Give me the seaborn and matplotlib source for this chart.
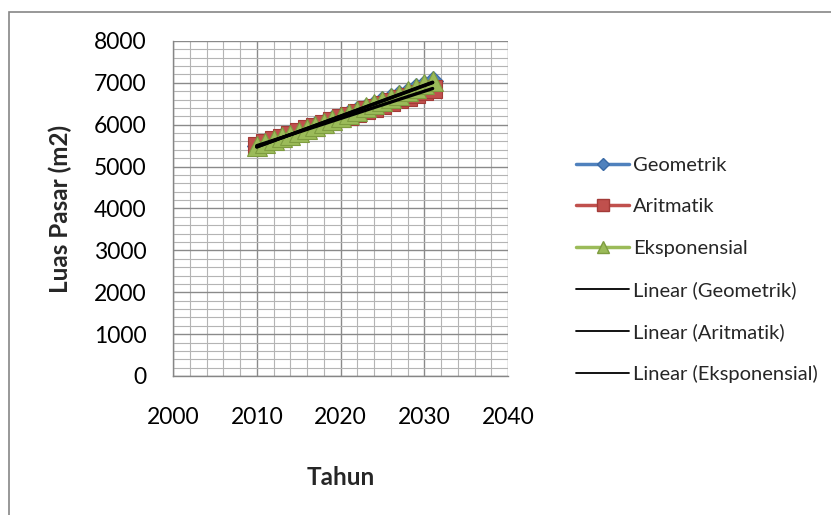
import numpy as np
import pandas as pd
import matplotlib
matplotlib.use("Agg")
import matplotlib.pyplot as plt
from matplotlib.lines import Line2D
from matplotlib.patches import Rectangle
from matplotlib.ticker import MultipleLocator
import seaborn as sns

# Projected market floor area (m2) per year, three projection methods
tahun = [2010, 2011, 2012, 2013, 2014, 2015, 2016, 2017, 2018, 2019, 2020,
         2021, 2022, 2023, 2024, 2025, 2026, 2027, 2028, 2029, 2030, 2031]
geometrik = [5500, 5565, 5631, 5697, 5764, 5832, 5901, 5971, 6041, 6113, 6185,
             6258, 6331, 6406, 6482, 6558, 6636, 6714, 6793, 6873, 6954, 7036]
aritmatik = [5500, 5565, 5630, 5695, 5760, 5825, 5890, 5955, 6020, 6085, 6150,
             6215, 6280, 6345, 6410, 6475, 6540, 6605, 6670, 6735, 6800, 6865]
eksponensial = [5500, 5565, 5631, 5698, 5766, 5834, 5904, 5974, 6045, 6116, 6189,
                6262, 6337, 6412, 6488, 6565, 6643, 6722, 6802, 6882, 6964, 7047]

x_ticks = [2000, 2010, 2020, 2030, 2040]
y_ticks = [0, 1000, 2000, 3000, 4000, 5000, 6000, 7000, 8000]

series_names = ["Geometrik", "Aritmatik", "Eksponensial"]
series_values = [geometrik, aritmatik, eksponensial]

df = pd.DataFrame({
    "Tahun": np.tile(tahun, 3),
    "Luas": np.concatenate(series_values),
    "Metode": np.repeat(series_names, len(tahun)),
})

sns.set_theme(style="white")
plt.rcParams["font.family"] = ["Lato", "DejaVu Sans"]

W, H = 831, 515
fig = plt.figure(figsize=(W / 100, H / 100), dpi=100)
ax = fig.add_axes([173 / W, 1 - 376 / H, (508 - 173) / W, (376 - 41) / H])

styles = {
    "Geometrik": dict(color="#4F81BD", marker="D", mfc="#4F81BD", mec="#3A6AA6", ms=10),
    "Aritmatik": dict(color="#C0504D", marker="s", mfc="#C0504D", mec="#A33B38", ms=13),
    "Eksponensial": dict(color="#9BBB59", marker="^", mfc="#9BBB59", mec="#7E9C40", ms=14),
}

for name in series_names:
    st = styles[name]
    sub = df[df["Metode"] == name]
    sns.lineplot(data=sub, x="Tahun", y="Luas", ax=ax, color=st["color"],
                 marker=st["marker"], markersize=st["ms"],
                 markerfacecolor=st["mfc"], markeredgecolor=st["mec"],
                 markeredgewidth=0.8, linewidth=2.5, legend=False, zorder=3)

# Linear trend lines for each series
for name in series_names:
    sub = df[df["Metode"] == name]
    sns.regplot(data=sub, x="Tahun", y="Luas", ax=ax, scatter=False, ci=None,
                truncate=True, color="black", line_kws=dict(linewidth=2.4, zorder=4))

ax.set_xlim(2000, 2040)
ax.set_ylim(0, 8000)
ax.set_xticks(x_ticks)
ax.set_yticks(y_ticks)
ax.xaxis.set_minor_locator(MultipleLocator(2))
ax.yaxis.set_minor_locator(MultipleLocator(200))

ax.grid(which="major", color="#8a8a8a", linewidth=1.0)
ax.grid(which="minor", color="#b4b4b4", linewidth=0.8)
ax.set_axisbelow(True)

for side in ["top", "right"]:
    ax.spines[side].set_visible(False)
for side in ["left", "bottom"]:
    ax.spines[side].set_color("#868686")
    ax.spines[side].set_linewidth(1.0)

ax.tick_params(axis="both", which="major", direction="out", length=6, width=1,
               color="#868686", labelsize=16.5, labelcolor="black")
ax.tick_params(axis="x", which="major", pad=16)
ax.tick_params(axis="y", which="major", pad=13)
ax.tick_params(which="minor", length=0)

ax.set_xlabel("Tahun", fontsize=17.5, fontweight="bold")
ax.set_ylabel("Luas Pasar (m2)", fontsize=17.5, fontweight="bold")
ax.xaxis.set_label_coords(0.5, (376 - 466) / 335)
ax.yaxis.set_label_coords((72 - 173) / 335, 0.5)

handles = []
for name in series_names:
    st = styles[name]
    handles.append(Line2D([], [], color=st["color"], linewidth=2.5, marker=st["marker"],
                          markersize=st["ms"] * 0.62, markerfacecolor=st["mfc"],
                          markeredgecolor=st["mec"]))
labels = list(series_names)
for name in series_names:
    handles.append(Line2D([], [], color="black", linewidth=1.3))
    labels.append(f"Linear ({name})")

fig.legend(handles, labels, loc="upper left", bbox_to_anchor=(576 / W, 1 - 157 / H),
           frameon=False, fontsize=14.5, handlelength=2.65, handletextpad=0.2,
           labelspacing=1.2, borderpad=0, borderaxespad=0)

# Chart area border
fig.patches.append(Rectangle((9 / W, -0.5), 2.0, 1.5 - 12 / H, transform=fig.transFigure,
                             fill=False, edgecolor="#868686", linewidth=1.2))

fig.savefig("out.png", dpi=100)
